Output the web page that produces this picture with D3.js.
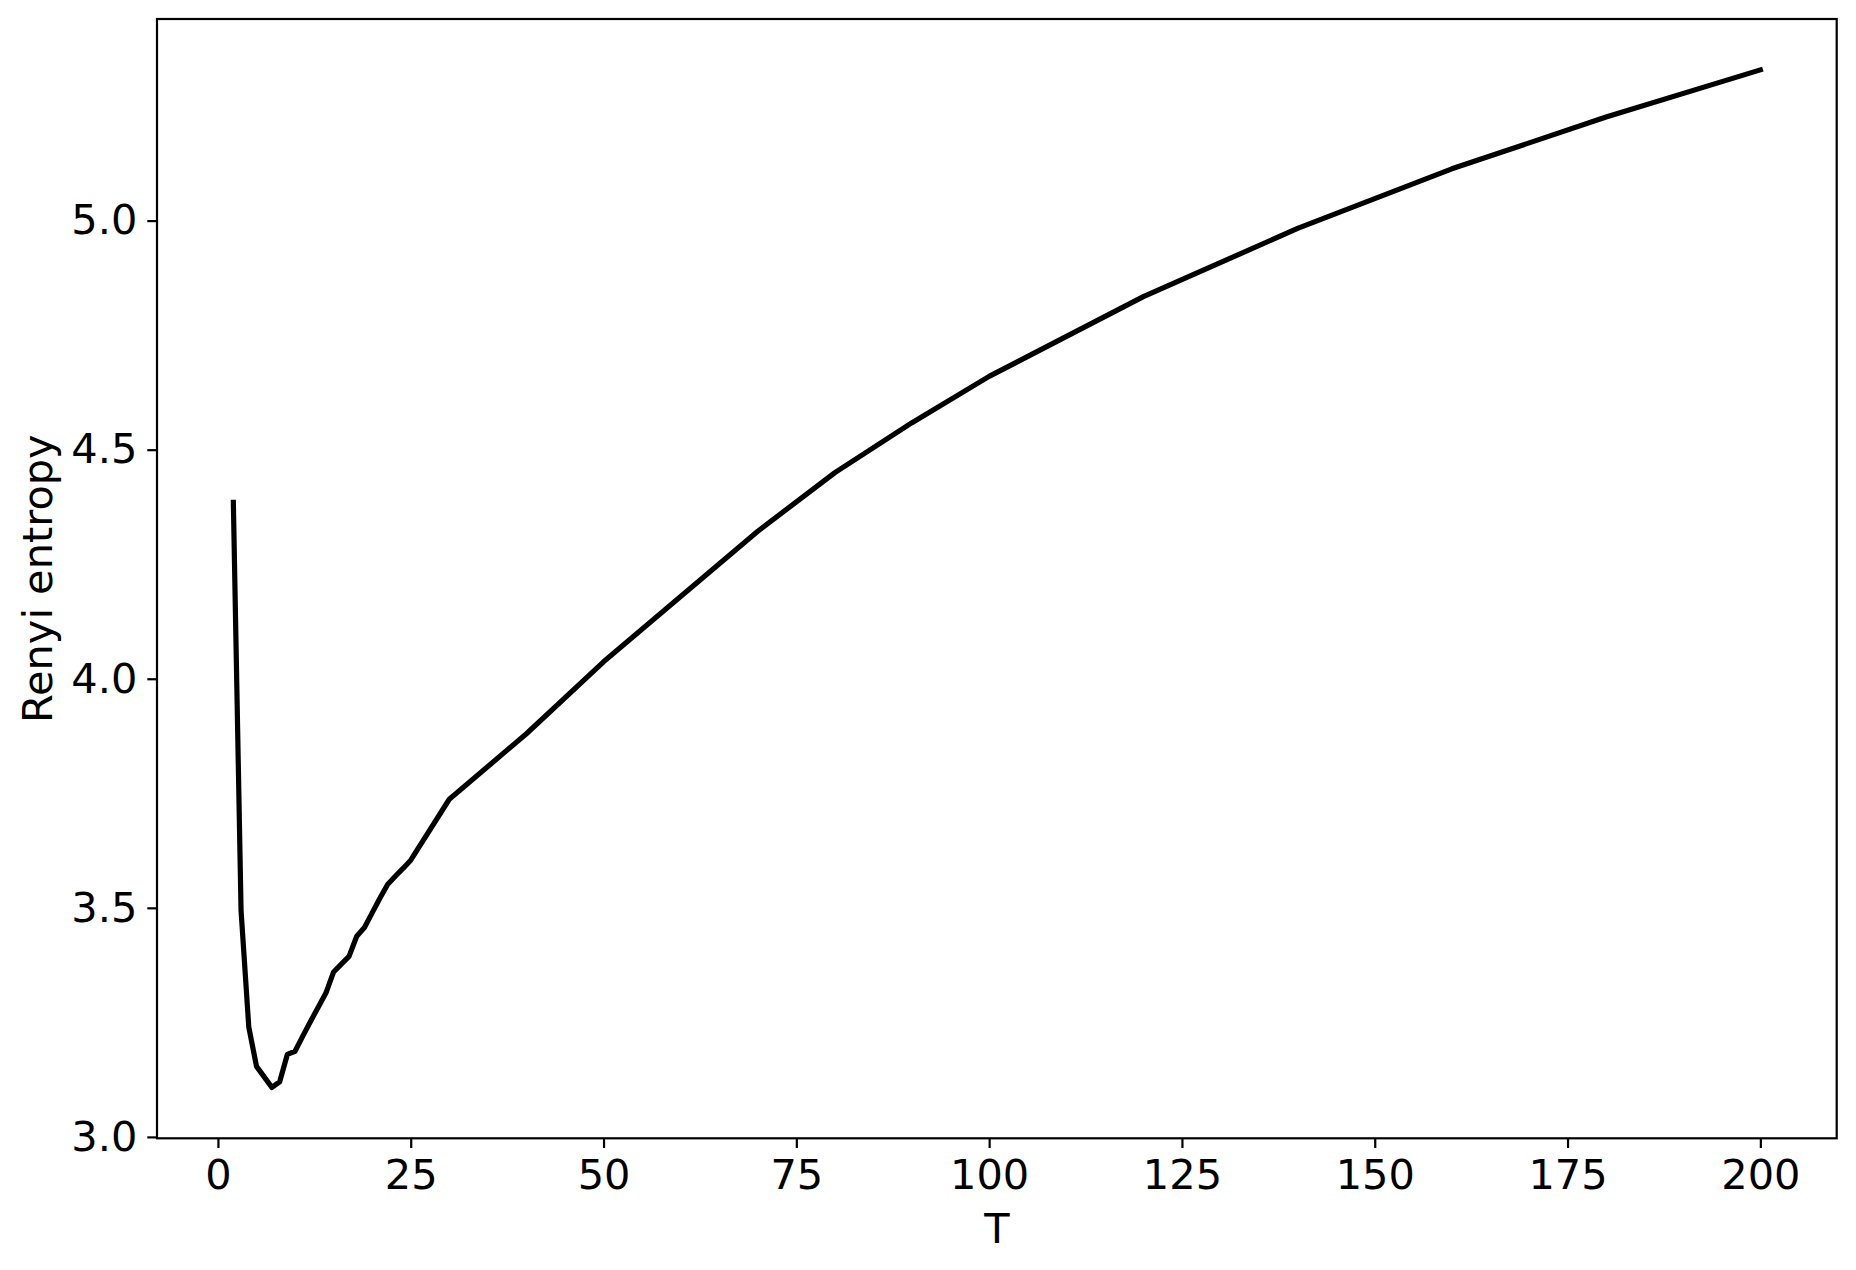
<!DOCTYPE html>
<html>
<head>
<meta charset="utf-8">
<script src="https://cdn.jsdelivr.net/npm/d3@7"></script>
<style>
  html, body { margin: 0; padding: 0; background: #fff; }
  svg { display: block; }
  text { font-family: "DejaVu Sans", sans-serif; fill: #000; }
</style>
</head>
<body>
<svg id="chart" width="1856" height="1270"></svg>
<script>
// Data
const T = [2, 3, 4, 5, 6, 7, 8, 9, 10, 11, 12, 13, 14, 15, 16, 17, 18, 19, 20, 21, 22, 23, 24, 25,
           30, 40, 50, 70, 80, 90, 100, 120, 140, 160, 180, 200];
const renyi = [4.385, 3.494, 3.240, 3.154, 3.131, 3.108, 3.120, 3.180, 3.187, 3.220, 3.252, 3.283,
               3.314, 3.360, 3.377, 3.394, 3.438, 3.457, 3.489, 3.521, 3.551, 3.569, 3.586, 3.604,
               3.737, 3.880, 4.037, 4.322, 4.450, 4.559, 4.660, 4.834, 4.983, 5.113, 5.226, 5.329];
const xTicks = [0, 25, 50, 75, 100, 125, 150, 175, 200];
const yTicks = [3.0, 3.5, 4.0, 4.5, 5.0];
const xLabel = "T";
const yLabel = "Renyi entropy";

(function () {
const svg = d3.select("#chart");
const mLeft = 157, mRight = 1836.7, mTop = 19, mBottom = 1138.3;

const data = T.map((t, i) => ({ t, v: renyi[i] }));

// matplotlib-style 5% margins
const xMin = d3.min(T), xMax = d3.max(T);
const xPad = 0.05 * (xMax - xMin);
const yMin = d3.min(renyi), yMax = d3.max(renyi);
const yPad = 0.05 * (yMax - yMin);

const x = d3.scaleLinear().domain([xMin - xPad, xMax + xPad]).range([mLeft, mRight]);
const y = d3.scaleLinear().domain([yMin - yPad, yMax + yPad]).range([mBottom, mTop]);

const fontSize = 41.5;

// Line
const line = d3.line().x(d => x(d.t)).y(d => y(d.v));
svg.append("path")
  .datum(data)
  .attr("d", line)
  .attr("fill", "none")
  .attr("stroke", "#000")
  .attr("stroke-width", 5.2)
  .attr("stroke-linejoin", "round")
  .attr("stroke-linecap", "square");

// X axis
const xAxis = d3.axisBottom(x).tickValues(xTicks).tickFormat(d3.format("d"))
  .tickSizeInner(9.7).tickSizeOuter(0).tickPadding(12);
const gx = svg.append("g").attr("transform", `translate(0,${mBottom})`).call(xAxis);
gx.select(".domain").remove();
gx.selectAll(".tick line").attr("stroke", "#000").attr("stroke-width", 2.2);
gx.selectAll(".tick text")
  .attr("font-size", fontSize)
  .attr("font-family", "DejaVu Sans")
  .attr("fill", "#000");

// Y axis
const yAxis = d3.axisLeft(y).tickValues(yTicks).tickFormat(d3.format(".1f"))
  .tickSizeInner(9.7).tickSizeOuter(0).tickPadding(10);
const gy = svg.append("g").attr("transform", `translate(${mLeft},0)`).call(yAxis);
gy.select(".domain").remove();
gy.selectAll(".tick line").attr("stroke", "#000").attr("stroke-width", 2.2);
gy.selectAll(".tick text")
  .attr("font-size", fontSize)
  .attr("font-family", "DejaVu Sans")
  .attr("fill", "#000");

// Frame (spines)
svg.append("rect")
  .attr("x", mLeft).attr("y", mTop)
  .attr("width", mRight - mLeft).attr("height", mBottom - mTop)
  .attr("fill", "none").attr("stroke", "#000").attr("stroke-width", 2.2);

// Axis labels
svg.append("text")
  .attr("x", (mLeft + mRight) / 2)
  .attr("y", 1243)
  .attr("text-anchor", "middle")
  .attr("font-size", fontSize)
  .text(xLabel);

svg.append("text")
  .attr("transform", `translate(52,${(mTop + mBottom) / 2}) rotate(-90)`)
  .attr("text-anchor", "middle")
  .attr("font-size", fontSize)
  .text(yLabel);
})();
</script>
</body>
</html>
